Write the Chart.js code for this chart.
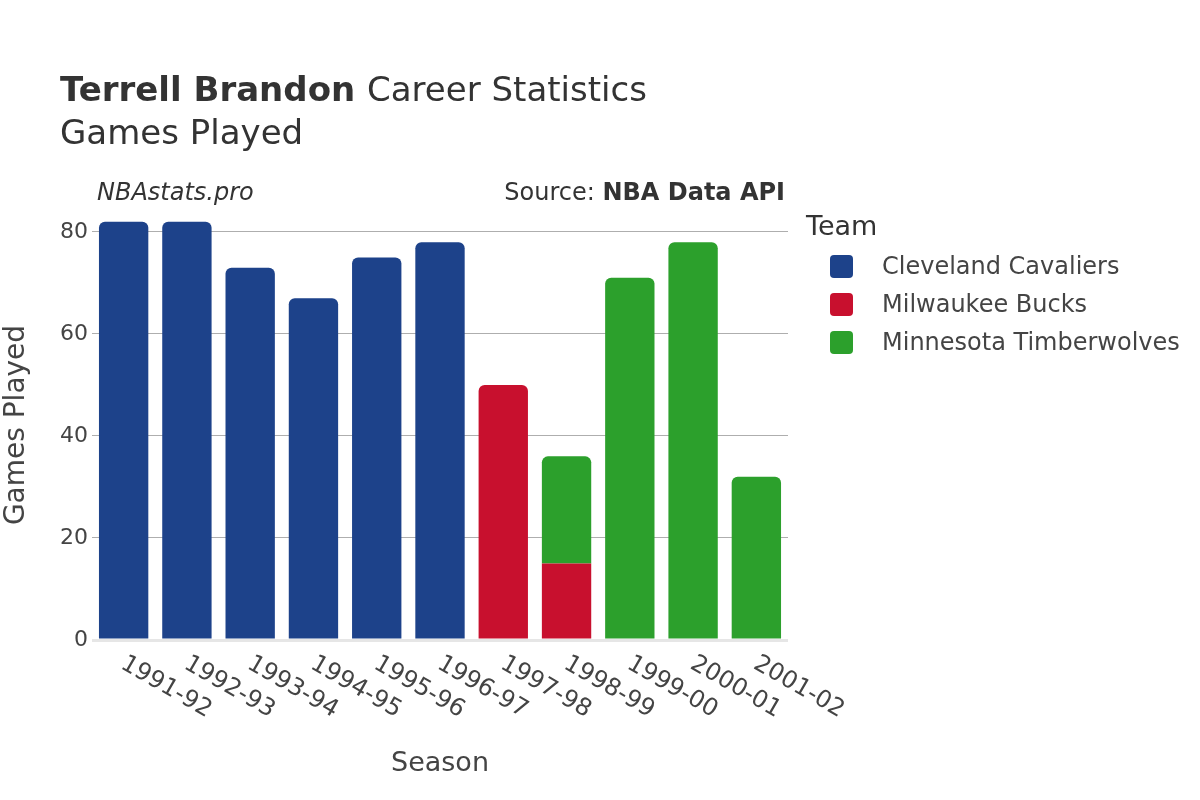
<!DOCTYPE html>
<html>
<head>
<meta charset="utf-8">
<script src="https://cdn.jsdelivr.net/npm/chart.js@4.4.0/dist/chart.umd.min.js"></script>
<style>
    body { margin: 0; background: #fff; }
</style>
</head>
<body>
<canvas id="chart" width="1200" height="800"></canvas>
<script>
const seasons = ['1991-92', '1992-93', '1993-94', '1994-95', '1995-96', '1996-97', '1997-98', '1998-99', '1999-00', '2000-01', '2001-02'];
const cavaliersGames = [82, 82, 73, 67, 75, 78, null, null, null, null, null];
const bucksGames = [null, null, null, null, null, null, 50, 15, null, null, null];
const wolvesGames = [null, null, null, null, null, null, null, 21, 71, 78, 32];
const yTicks = [0, 20, 40, 60, 80];

const textColor = '#444';
const fontFamily = 'DejaVu Sans';

Chart.defaults.font.family = fontFamily;
Chart.defaults.color = textColor;

function makeDataset(label, data, color) {
    return {
        label: label,
        data: data,
        backgroundColor: color,
        borderColor: '#fff',
        borderWidth: 0,
        borderRadius: 6,
        barPercentage: 0.78,
        categoryPercentage: 1
    };
}

// titles, rotated season labels and the legend are drawn here
const decorations = {
    id: 'decorations',
    afterDraw(chart) {
        const ctx = chart.ctx;
        const xScale = chart.scales.x;
        ctx.save();
        ctx.fillStyle = '#333';
        ctx.textBaseline = 'alphabetic';
        ctx.textAlign = 'left';

        ctx.font = 'bold 34px ' + fontFamily;
        ctx.fillText('Terrell Brandon', 60, 101);
        const w = ctx.measureText('Terrell Brandon ').width;
        ctx.font = '34px ' + fontFamily;
        ctx.fillText('Career Statistics', 60 + w, 101);
        ctx.fillText('Games Played', 60, 144);

        ctx.font = 'italic 24px ' + fontFamily;
        ctx.fillText('NBAstats.pro', 97, 200);
        ctx.textAlign = 'right';
        ctx.font = 'bold 24px ' + fontFamily;
        ctx.fillText('NBA Data API', 785, 200);
        const bw = ctx.measureText('NBA Data API').width;
        ctx.font = '24px ' + fontFamily;
        ctx.fillText('Source: ', 785 - bw, 200);

        // season tick labels, slanted downwards
        ctx.fillStyle = textColor;
        ctx.font = '24px ' + fontFamily;
        ctx.textAlign = 'left';
        ctx.textBaseline = 'middle';
        seasons.forEach((s, i) => {
            const x = xScale.getPixelForValue(i);
            ctx.save();
            ctx.translate(x - 1, xScale.top + 22);
            ctx.rotate(Math.PI / 6);
            ctx.fillText(s, 0, 0);
            ctx.restore();
        });

        // legend
        ctx.fillStyle = '#333';
        ctx.font = '27px ' + fontFamily;
        ctx.fillText('Team', 806, 228);
        ctx.font = '24px ' + fontFamily;
        chart.data.datasets.forEach((ds, i) => {
            const y = 266 + i * 38;
            ctx.fillStyle = ds.backgroundColor;
            ctx.beginPath();
            ctx.roundRect(830, y - 11, 23, 23, 4);
            ctx.fill();
            ctx.fillStyle = textColor;
            ctx.fillText(ds.label, 882, y + 2);
        });
        ctx.restore();
    }
};

new Chart(document.getElementById('chart'), {
    type: 'bar',
    data: {
        labels: seasons,
        datasets: [
            makeDataset('Cleveland Cavaliers', cavaliersGames, '#1d428a'),
            makeDataset('Milwaukee Bucks', bucksGames, '#c8102e'),
            makeDataset('Minnesota Timberwolves', wolvesGames, '#2ca02c')
        ]
    },
    options: {
        responsive: false,
        animation: false,
        layout: {padding: {left: 0, right: 412, top: 210, bottom: 20}},
        plugins: {
            legend: {display: false},
            tooltip: {enabled: false}
        },
        scales: {
            x: {
                stacked: true,
                grid: {display: false},
                border: {display: false},
                ticks: {display: false},
                title: {display: true, text: 'Season', font: {size: 27}, color: textColor, padding: 0},
                afterFit(scale) { scale.height = 140; }
            },
            y: {
                stacked: true,
                min: 0,
                max: 84.3,
                border: {display: false},
                grid: {
                    drawTicks: false,
                    color: c => c.tick.value === 0 ? '#e6e6e6' : '#aeaeae',
                    lineWidth: c => c.tick.value === 0 ? 3 : 1
                },
                ticks: {font: {size: 22}, color: textColor, padding: 4, stepSize: 20},
                afterBuildTicks(scale) {
                    scale.ticks = yTicks.map(v => ({value: v}));
                },
                title: {display: true, text: 'Games Played', font: {size: 28}, color: textColor, padding: 0},
                afterFit(scale) { scale.width = 92; }
            }
        }
    },
    plugins: [decorations]
});
</script>
</body>
</html>
